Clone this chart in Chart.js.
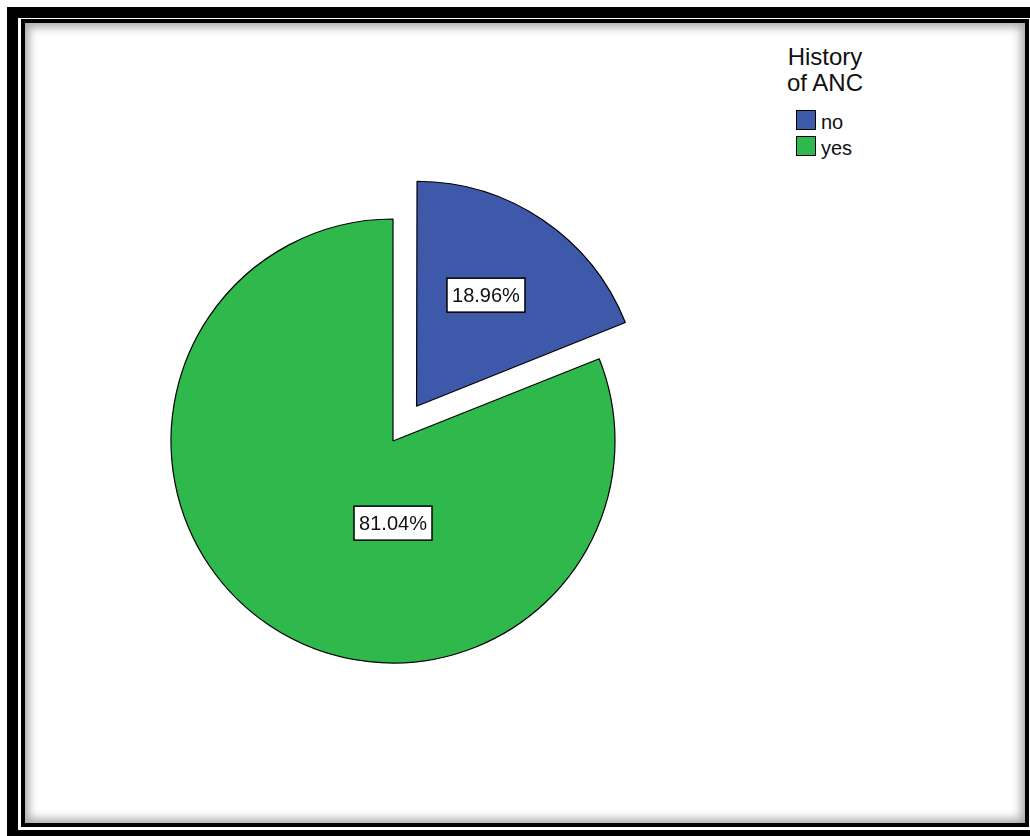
<!DOCTYPE html>
<html>
<head>
<meta charset="utf-8">
<script src="https://cdn.jsdelivr.net/npm/chart.js@4.4.0/dist/chart.umd.min.js"></script>
<style>
  html, body { margin: 0; padding: 0; background: #fff; }
  body { width: 1030px; height: 836px; position: relative; overflow: hidden;
         font-family: "Liberation Sans", Arial, sans-serif; }
  .outer { position: absolute; left: 7px; top: 7px; width: 1040px; height: 840px;
           border: 11px solid #000; border-right-width: 0; border-bottom-width: 0; box-sizing: border-box; }
  .outerB { position: absolute; left: 7px; top: 830px; width: 1030px; height: 10px; background: #000; }
  .inner { position: absolute; left: 21px; top: 19px; width: 1008px; height: 808px;
           border: 4px solid #000; box-sizing: border-box;
           box-shadow: inset 0 0 10px 4px rgba(0,0,0,0.35); }
  #wrap { position: absolute; left: 43px; top: 91px; width: 700px; height: 700px; }
  .legend { position: absolute; left: 760px; top: 44px; width: 130px; color: #111; }
  .legend .title { text-align: center; font-size: 24px; line-height: 26px; }
  .legend .item { position: absolute; left: 36px; height: 20px; font-size: 20px; line-height: 20px; }
  .legend .box { position: absolute; left: 0; top: 0; width: 20px; height: 20px;
                 border: 1.5px solid #000; box-sizing: border-box; }
  .legend .txt { position: absolute; left: 25px; top: 2px; white-space: nowrap; }
</style>
</head>
<body>
<div class="outer"></div>
<div class="outerB"></div>
<div class="inner"></div>
<div id="wrap"><canvas id="pie"></canvas></div>
<div class="legend" id="legend"><div class="title">History<br>of ANC</div></div>
<script>
// Datos
const categories = ["no", "yes"];
const percents = [18.96, 81.04];
const legendTitle = "History of ANC";

const colores = ["#3e59aa", "#2fb84b"];
const explode = [168, 0];          // Chart.js desplaza offset/4 px
const labelPos = [[-58, 0.59], [90, 0.37]]; // angulo (grados), fraccion del radio

// Etiquetas en cajas blancas
const boxLabels = {
  id: "boxLabels",
  afterDatasetsDraw(chart) {
    const ctx = chart.ctx;
    const meta = chart.getDatasetMeta(0);
    meta.data.forEach((arc, i) => {
      const p = arc.getProps(["x", "y", "startAngle", "endAngle", "outerRadius"], true);
      const half = (p.startAngle + p.endAngle) / 2;
      const shift = explode[i] / 4;
      const cx = p.x + Math.cos(half) * shift;
      const cy = p.y + Math.sin(half) * shift;
      const a = labelPos[i][0] * Math.PI / 180;
      const r = labelPos[i][1] * p.outerRadius;
      const lx = cx + Math.cos(a) * r;
      const ly = cy + Math.sin(a) * r;
      const txt = percents[i].toFixed(2) + "%";
      ctx.save();
      ctx.font = '20px "Liberation Sans", Arial, sans-serif';
      const w = 78, h = 34;
      ctx.fillStyle = "#fff";
      ctx.fillRect(lx - w / 2, ly - h / 2, w, h);
      ctx.strokeStyle = "#000";
      ctx.lineWidth = 1.5;
      ctx.strokeRect(lx - w / 2, ly - h / 2, w, h);
      ctx.fillStyle = "#111";
      ctx.textAlign = "center";
      ctx.textBaseline = "middle";
      ctx.fillText(txt, lx, ly + 1);
      ctx.restore();
    });
  }
};

new Chart(document.getElementById("pie"), {
  type: "pie",
  data: {
    labels: categories,
    datasets: [{
      data: percents,
      backgroundColor: colores,
      borderColor: "#000",
      borderWidth: 1.2,
      offset: explode,
      hoverOffset: 0,
      radius: 222
    }]
  },
  options: {
    responsive: true,
    maintainAspectRatio: false,
    animation: false,
    events: [],
    layout: { padding: 0 },
    plugins: {
      legend: { display: false },
      tooltip: { enabled: false }
    }
  },
  plugins: [boxLabels]
});

// Leyenda
const leg = document.getElementById("legend");
categories.forEach((c, i) => {
  const it = document.createElement("div");
  it.className = "item";
  it.style.top = (66 + i * 26) + "px";
  it.innerHTML = '<div class="box" style="background:' + colores[i] + '"></div><div class="txt">' + c + '</div>';
  leg.appendChild(it);
});
</script>
</body>
</html>
